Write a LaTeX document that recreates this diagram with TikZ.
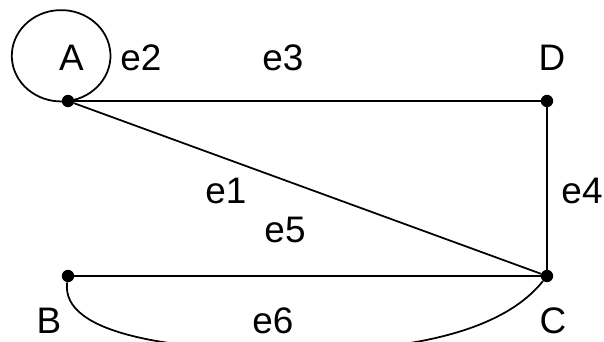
\documentclass[tikz,border=0pt]{standalone}
\usepackage{fontspec}
\setmainfont{Liberation Sans}
\usepackage{tikz}
\tikzset{
  vertex/.style={circle,fill=black,inner sep=0pt,minimum size=3.7mm},
  vlabel/.style={font=\fontsize{31.5}{36}\selectfont,inner sep=0pt},
  graphedge/.style={draw=black,line width=1.5pt}
}
\begin{document}
\begin{tikzpicture}[x=0.3mm,y=0.3mm]
  \useasboundingbox (0,0) rectangle (604,341);
  \clip (0,0) rectangle (604,341);
  % vertices
  \node[vertex] (A) at (68,240) {};
  \node[vertex] (D) at (547,240) {};
  \node[vertex] (B) at (68,65) {};
  \node[vertex] (C) at (547,65) {};
  \coordinate (e6low) at (300,-10);
  % edges
  \draw[graphedge] (A.center) arc[start angle=-82,end angle=278,x radius=14.8mm,y radius=13.7mm];
  \draw[graphedge] (A) -- (D);
  \draw[graphedge] (A) -- (C);
  \draw[graphedge] (D) -- (C);
  \draw[graphedge] (B) -- (C);
  \draw[graphedge] (B) .. controls +(-8,-60) and +(-120,0) .. (e6low)
    .. controls +(100,0) and +(-47,-59) .. (C);
  % labels
  \node[vlabel] (labA) at (71.5,283) {A};
  \node[vlabel] (labD) at (552,283) {D};
  \node[vlabel] (labB) at (49,20) {B};
  \node[vlabel] (labC) at (553,20) {C};
  \node[vlabel] (lab2) at (141,283) {e2};
  \node[vlabel] (lab3) at (283,283) {e3};
  \node[vlabel] (lab1) at (226,150) {e1};
  \node[vlabel] (lab5) at (285,111) {e5};
  \node[vlabel] (lab4) at (582,150) {e4};
  \node[vlabel] (lab6) at (273,20) {e6};
\end{tikzpicture}
\end{document}
